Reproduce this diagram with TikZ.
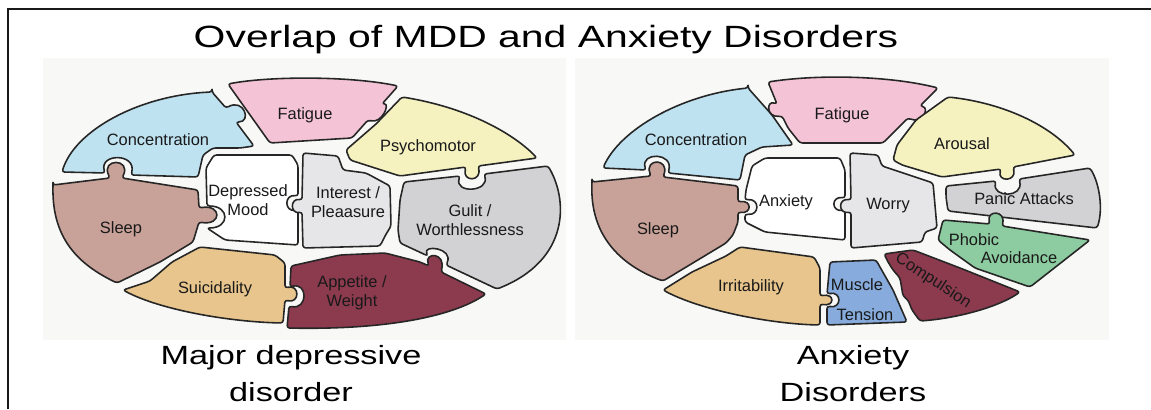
\documentclass[tikz,border=0pt]{standalone}
\usepackage{fontspec}
\setmainfont{Liberation Sans}
\usepackage{tikz}
\usepackage{xcolor}

\definecolor{cblue}{HTML}{BFE2F1}
\definecolor{fpink}{HTML}{F4C4D6}
\definecolor{ayellow}{HTML}{F5F2C0}
\definecolor{ggrey}{HTML}{D2D2D4}
\definecolor{amaroon}{HTML}{8C3A4E}
\definecolor{stan}{HTML}{E8C58C}
\definecolor{sleepc}{HTML}{C8A198}
\definecolor{ilight}{HTML}{E6E6E9}
\definecolor{pgreen}{HTML}{8DCBA0}
\definecolor{mblue}{HTML}{86ABDC}
\definecolor{bgtint}{HTML}{F8F8F6}

\newcommand{\lblfont}{\fontsize{9.35}{11}\selectfont}
\newcommand{\widetxt}[2]{\scalebox{#1}[1]{#2}}

\begin{document}
\begin{tikzpicture}[x=0.02cm,y=-0.02cm,
  piece/.style={draw=black!85,line width=0.9pt,line join=round,rounded corners=1.5pt},
  lbl/.style={font=\lblfont,inner sep=0pt,anchor=base,text=black!90},
  big/.style={font=\fontsize{15}{17}\selectfont,inner sep=0pt,anchor=base}]
  \useasboundingbox (0,0) rectangle (1151,409);

  % frame and backdrops
  \draw[line width=1.1pt,black!90] (8,409) -- (8,9) -- (1151,9);
  \fill[bgtint] (43,58) rectangle (566,340);
  \fill[bgtint] (575,58) rectangle (1109,340);

  % left: major depressive disorder
  \draw[piece,fill=cblue] (212,92) -- (226,108) .. controls (244,98) and (252,122) .. (236,122) -- (254,146) -- (240,148) -- (213,148) -- (203,155) -- (198,177) -- (131,175) .. controls (137,153) and (99,153) .. (105,173) -- (62,172) .. controls (75,130) and (140,95) .. (212,92) -- cycle;
  \draw[piece,fill=fpink] (228,84) .. controls (270,76) and (350,76) .. (398,86) -- (382,104) .. controls (390,104) and (382,124) .. (368,120) -- (352,138) -- (270,143) -- cycle;
  \draw[piece,fill=ggrey] (404,182) -- (460,176) .. controls (454,194) and (490,192) .. (484,174) -- (548,166) .. controls (568,200) and (570,260) .. (497,289) -- (446,265) .. controls (454,248) and (422,244) .. (428,256) -- (400,243) -- (398,230) -- (400,200) -- cycle;
  \draw[piece,fill=ayellow] (402,97) .. controls (470,108) and (515,135) .. (537,158) -- (478,166) .. controls (482,182) and (462,182) .. (466,167) -- (400,176) -- (350,160) -- (346,150) -- (376,124) -- cycle;
  \draw[piece,fill=amaroon] (291,266) -- (340,255) -- (385,253) -- (420,262) -- (429,266) .. controls (424,252) and (446,252) .. (441,272) -- (486,294) .. controls (450,318) and (380,330) .. (287,328) -- (289,306) .. controls (308,310) and (308,282) .. (290,287) -- cycle;
  \draw[piece,fill=stan] (200,247) -- (275,255) -- (285,263) -- (285,288) .. controls (300,284) and (300,304) .. (285,300) -- (283,323) .. controls (230,322) and (160,310) .. (123,290) -- (150,281) -- (172,262) -- cycle;
  \draw[piece,fill=sleepc] (53,185) -- (110,178) .. controls (100,158) and (132,158) .. (122,178) -- (198,190) -- (199,208) .. controls (222,204) and (222,226) .. (199,222) -- (193,242) -- (160,262) -- (117,283) .. controls (80,265) and (52,240) .. (53,185) -- cycle;
  \draw[piece,fill=white] (214,155) -- (292,155) -- (298,165) -- (298,196) .. controls (284,194) and (284,212) .. (298,210) -- (298,245) -- (225,240) -- (207,228) .. controls (230,228) and (230,206) .. (207,206) -- (206,168) -- cycle;
  \draw[piece,fill=ilight] (303,153) -- (338,156) -- (343,170) -- (366,173) -- (390,186) -- (391,226) -- (385,236) -- (380,246) -- (303,248) -- (302,212) .. controls (290,214) and (290,198) .. (302,200) -- cycle;

  % right: anxiety disorders
  \draw[piece,fill=cblue] (748,88) -- (772,115) -- (793,145) -- (762,147) -- (745,155) -- (740,180) -- (668,173) .. controls (674,152) and (640,152) .. (646,170) -- (603,168) .. controls (620,130) and (680,95) .. (748,88) -- cycle;
  \draw[piece,fill=fpink] (768,82) .. controls (820,74) and (890,76) .. (938,88) -- (920,106) .. controls (930,108) and (922,124) .. (908,118) -- (883,143) -- (800,143) -- (788,128) -- (782,116) .. controls (766,118) and (766,100) .. (777,104) -- cycle;
  \draw[piece,fill=ggrey] (946,186) -- (996,181) .. controls (992,198) and (1024,198) .. (1019,179) -- (1090,168) .. controls (1100,185) and (1103,210) .. (1097,228) -- (948,211) -- (946,197) -- cycle;
  \draw[piece,fill=ayellow] (948,97) .. controls (1003,103) and (1050,125) .. (1075,155) -- (1013,167) .. controls (1017,182) and (997,182) .. (1001,169) -- (942,177) -- (902,165) -- (893,160) -- (897,145) -- (916,120) -- cycle;
  \draw[piece,fill=pgreen] (943,220) -- (990,224) .. controls (986,210) and (1006,210) .. (1002,226) -- (1090,240) -- (1030,287) -- (975,268) -- (950,250) -- (938,240) -- cycle;
  \draw[piece,fill=amaroon] (884,254) -- (913,250) -- (960,268) -- (1020,292) .. controls (1000,306) and (960,318) .. (920,321) -- (912,310) -- (908,300) -- (903,296) -- (900,278) -- (893,270) -- (888,262) -- cycle;
  \draw[piece,fill=mblue] (830,262) -- (876,260) -- (893,290) -- (907,322) -- (827,325) -- (827,306) .. controls (842,309) and (842,291) .. (827,294) -- cycle;
  \draw[piece,fill=stan] (692,272) -- (726,256) -- (740,247) -- (814,257) -- (820,268) -- (820,296) .. controls (835,293) and (835,307) .. (820,304) -- (820,325) .. controls (770,324) and (700,310) .. (663,290) -- cycle;
  \draw[piece,fill=sleepc] (592,182) -- (651,176) .. controls (644,158) and (670,158) .. (663,177) -- (738,186) -- (738,202) .. controls (752,200) and (752,214) .. (738,212) -- (738,222) -- (733,235) -- (726,243) -- (663,281) .. controls (620,265) and (590,235) .. (592,182) -- cycle;
  \draw[piece,fill=white] (765,158) -- (840,158) -- (845,170) -- (845,198) .. controls (831,196) and (831,212) .. (845,210) -- (845,240) -- (765,232) -- (745,222) -- (745,214) .. controls (760,216) and (760,198) .. (745,200) -- (746,190) -- (752,166) -- cycle;
  \draw[piece,fill=ilight] (850,153) -- (878,155) -- (882,166) -- (933,183) -- (937,228) -- (925,232) -- (922,242) -- (851,248) -- (851,212) .. controls (838,214) and (838,198) .. (851,200) -- cycle;

  % labels
  \node[lbl] (lconc) at (158,145) {Concentration};
  \node[lbl] (lfat) at (305,119) {Fatigue};
  \node[lbl] (lpsy) at (428,151) {Psychomotor};
  \node[lbl] (ldepa) at (248,196) {Depressed};
  \node[lbl] (ldepb) at (248,215) {Mood};
  \node[lbl] (linta) at (348,198) {Interest /};
  \node[lbl] (lintb) at (348,217) {Pleaasure};
  \node[lbl] (lguia) at (470,216) {Gulit /};
  \node[lbl] (lguib) at (470,235) {Worthlessness};
  \node[lbl] (lslp) at (121,233) {Sleep};
  \node[lbl] (lsui) at (215,293) {Suicidality};
  \node[lbl] (lappa) at (352,287) {Appetite /};
  \node[lbl] (lappb) at (352,306) {Weight};

  \node[lbl] (rconc) at (696,145) {Concentration};
  \node[lbl] (rfat) at (842,119) {Fatigue};
  \node[lbl] (raro) at (962,149) {Arousal};
  \node[lbl] (ranx) at (786,206) {Anxiety};
  \node[lbl] (rwor) at (888,209) {Worry};
  \node[lbl] (rpan) at (1024,204) {Panic Attacks};
  \node[lbl] (rphoa) at (974,245) {Phobic};
  \node[lbl] (rphob) at (1019,263) {Avoidance};
  \node[lbl] (rslp) at (658,234) {Sleep};
  \node[lbl] (rirr) at (751,291) {Irritability};
  \node[lbl] (rmusa) at (857,290) {Muscle};
  \node[lbl] (rmusb) at (865,320) {Tension};
  \node[lbl,anchor=center,rotate=-33] (rcomp) at (933,281) {Compulsion};

  \node[big,font=\fontsize{17.5}{19}\selectfont] (title) at (546,47) {\widetxt{1.33}{Overlap of MDD and Anxiety Disorders}};
  \node[big] (mdda) at (291,364) {\widetxt{1.3}{Major depressive}};
  \node[big] (mddb) at (291,401) {\widetxt{1.3}{disorder}};
  \node[big] (anxa) at (853,364) {\widetxt{1.3}{Anxiety}};
  \node[big] (anxb) at (853,401) {\widetxt{1.3}{Disorders}};
\end{tikzpicture}
\end{document}
